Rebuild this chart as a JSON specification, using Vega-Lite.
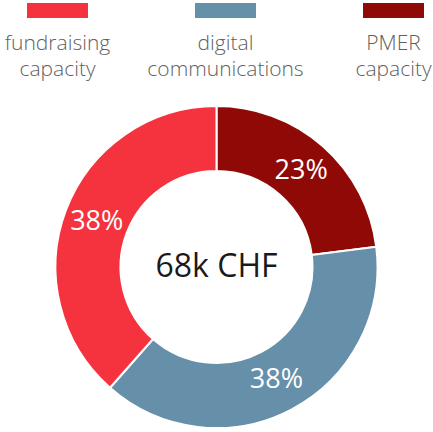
{
  "$schema": "https://vega.github.io/schema/vega-lite/v6.json",
  "padding": {"left": 0, "top": 3, "right": 0, "bottom": 0},
  "spacing": 0,
  "config": {"view": {"stroke": null}, "font": "Open Sans"},
  "datasets": {
    "shares": [
      {"category": "PMER capacity", "share": 23, "label": "23%", "rank": 1},
      {"category": "digital communications", "share": 38.5, "label": "38%", "rank": 2},
      {"category": "fundraising capacity", "share": 38.5, "label": "38%", "rank": 3}
    ],
    "total": [{"total": "68k CHF"}]
  },
  "vconcat": [
    {
      "width": 433,
      "height": 15,
      "data": {"name": "shares"},
      "mark": {"type": "rect"},
      "encoding": {
        "x": {"field": "category", "type": "nominal", "axis": null,
              "scale": {"type": "band", "domain": ["fundraising capacity", "digital communications", "PMER capacity"], "range": [27, 424], "paddingInner": 0.637, "paddingOuter": 0}},
        "color": {"field": "category", "type": "nominal", "legend": null,
                  "scale": {"domain": ["fundraising capacity", "digital communications", "PMER capacity"], "range": ["#f5333f", "#6690aa", "#8f0a07"]}}
      }
    },
    {
      "width": 433,
      "height": 84,
      "data": {"name": "shares"},
      "mark": {"type": "text", "lineBreak": " ", "fontSize": 21, "fontWeight": 300, "color": "#5f5f5f", "lineHeight": 26, "baseline": "middle", "align": "center", "dy": -16},
      "encoding": {
        "x": {"field": "category", "type": "nominal", "axis": null,
              "scale": {"type": "band", "domain": ["fundraising capacity", "digital communications", "PMER capacity"], "range": [27, 424], "paddingInner": 0.637, "paddingOuter": 0}},
        "text": {"field": "category", "type": "nominal"}
      }
    },
    {
      "width": 433,
      "height": 330,
      "layer": [
        {
          "data": {"name": "shares"},
          "mark": {"type": "arc", "outerRadius": 161, "innerRadius": 96, "stroke": "#ffffff", "strokeWidth": 2},
          "encoding": {
            "theta": {"field": "share", "type": "quantitative", "stack": true},
            "order": {"field": "rank", "type": "quantitative"},
            "color": {"field": "category", "type": "nominal", "legend": null,
                      "scale": {"domain": ["fundraising capacity", "digital communications", "PMER capacity"], "range": ["#f5333f", "#6690aa", "#8f0a07"]}}
          }
        },
        {
          "data": {"name": "shares"},
          "mark": {"type": "text", "radius": 128, "fontSize": 27, "color": "#ffffff", "baseline": "middle", "align": "center"},
          "encoding": {
            "theta": {"field": "share", "type": "quantitative", "stack": true},
            "order": {"field": "rank", "type": "quantitative"},
            "text": {"field": "label", "type": "nominal"}
          }
        },
        {
          "data": {"name": "total"},
          "mark": {"type": "text", "fontSize": 32, "color": "#1a1a1a", "baseline": "middle", "align": "center"},
          "encoding": {
            "text": {"field": "total", "type": "nominal"}
          }
        }
      ]
    }
  ]
}
